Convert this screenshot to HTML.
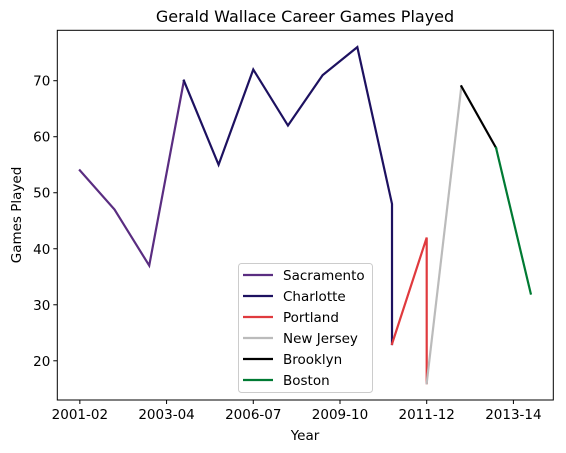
<!DOCTYPE html>
<html><head><meta charset="utf-8"><style>
body{margin:0;background:#fff;}
svg{display:block;font-family:"DejaVu Sans","Liberation Sans",sans-serif;}
</style></head><body>
<svg id="chart" width="566" height="453">
</svg>
<script>
const seasons = ["2001-02","2002-03","2003-04","2004-05","2005-06","2006-07","2007-08","2008-09","2009-10","2010-11","2011-12","2012-13","2013-14","2014-15"];
const teams = ["Sacramento","Charlotte","Portland","New Jersey","Brooklyn","Boston"];
const colors = ["#5a2d81","#1d1160","#e03a3e","#bbbbbb","#000000","#007a33"];
const seriesIdx = [[0,1,2,3],[3,4,5,6,7,8,9,9],[9,10,10],[10,11],[11,12],[12,13]];
const seriesVals = [[54,47,37,70],[70,55,72,62,71,76,48,23],[23,42,16],[16,69],[69,58],[58,32]];
const xTickIdx = [0,2.5,5,7.5,10,12.5];
const xTickLabels = ["2001-02","2003-04","2006-07","2009-10","2011-12","2013-14"];
const yTicks = [20,30,40,50,60,70];

const NS="http://www.w3.org/2000/svg";
const svg=document.getElementById('chart');
const L=57.3,R=553.3,T=30.3,B=400;
const xMin=-0.65,xMax=13.65,yMin=13,yMax=79;
const xs=i=>L+(i-xMin)/(xMax-xMin)*(R-L);
const ys=v=>B-(v-yMin)/(yMax-yMin)*(B-T);
function el(tag,attrs,parent){const e=document.createElementNS(NS,tag);for(const k in attrs)e.setAttribute(k,attrs[k]);(parent||svg).appendChild(e);return e;}

let t=el('text',{x:305,y:22,'text-anchor':'middle','font-size':'16',fill:'#000'});


t.textContent='Gerald Wallace Career Games Played';

seriesIdx.forEach((idx,s)=>{
  const pts=idx.map((i,k)=>xs(i).toFixed(2)+','+ys(seriesVals[s][k]).toFixed(2)).join(' ');
  const p=el('polyline',{points:pts,fill:'none',stroke:colors[s],'stroke-width':2.2,'stroke-linejoin':'miter','stroke-linecap':'square'});
  
  
});

const f=el('rect',{x:L,y:T,width:R-L,height:B-T,fill:'none',stroke:'#000','stroke-width':1});



xTickIdx.forEach((i,k)=>{
  const x=xs(i);
  const tk=el('line',{x1:x,x2:x,y1:B,y2:B+4,stroke:'#000'});
  
  
  const lb=el('text',{x:x,y:B+19,'text-anchor':'middle','font-size':'13.5',fill:'#000'});
  
  
  lb.textContent=xTickLabels[k];
});
yTicks.forEach(v=>{
  const y=ys(v);
  const tk=el('line',{x1:L-4,x2:L,y1:y,y2:y,stroke:'#000'});
  
  
  const lb=el('text',{x:L-7,y:y+5,'text-anchor':'end','font-size':'13.5',fill:'#000'});
  
  
  lb.textContent=v;
});
t=el('text',{x:305,y:440,'text-anchor':'middle','font-size':'13.5',fill:'#000'});


t.textContent='Year';
t=el('text',{x:0,y:0,'text-anchor':'middle','font-size':'13.5',fill:'#000',transform:'translate(21,215) rotate(-90)'});


t.textContent='Games Played';

const lg=el('g',{});


el('rect',{x:238.5,y:263.5,width:134,height:129,rx:3,fill:'#fff','fill-opacity':0.8,stroke:'#ccc'},lg);
teams.forEach((n,k)=>{
  const y=275+k*21;
  const g=el('g',{},lg);
  
  
  el('line',{x1:243,x2:273,y1:y,y2:y,stroke:colors[k],'stroke-width':2.2},g);
  const tx=el('text',{x:283,y:y+5,'font-size':'13.5',fill:'#000'},g);
  tx.textContent=n;
});
</script>
</body></html>
